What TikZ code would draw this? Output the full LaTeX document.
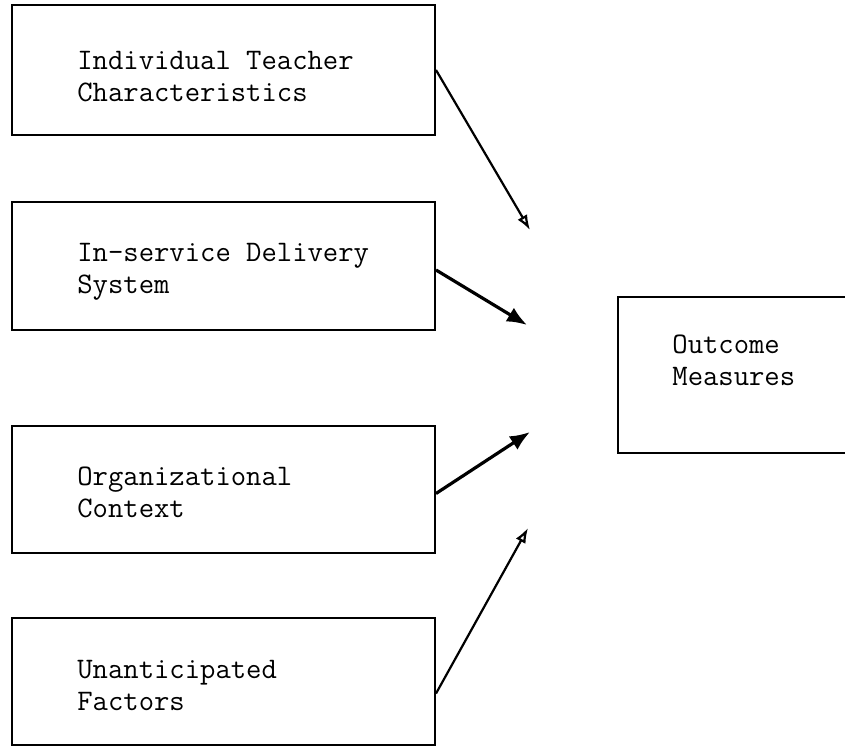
\documentclass[tikz,border=0pt]{standalone}
\usepackage{fontspec}
\usetikzlibrary{arrows.meta}
\begin{document}
\begin{tikzpicture}
[x=0.5pt, y=-0.5pt,
 boxdecorate/.style={shape=rectangle,draw,line width=1pt,minimum width=211.5pt},
 textdecorate/.style={anchor=west,align=left,inner sep=0pt,
   font=\fontsize{14.9}{16}\selectfont\ttfamily},
 thinarrow/.style={-{Latex[open,length=7.5pt,width=5.5pt]},line width=1.1pt},
 thickarrow/.style={-{Latex[length=10pt,width=8pt]},line width=1.6pt}]
%% page
\clip (0,0) rectangle (845,747);
%% boxes on the left
\foreach \nodename/\y/\h/\ty/\txt in {teacher/70/65pt/77/{Individual Teacher\\Characteristics},
  delivery/266/64pt/272/{In-service Delivery\\System},
  context/489.5/63.5pt/492/{Organizational\\Context},
  factors/681.5/63.5pt/685/{Unanticipated\\Factors}}
{
  \node (\nodename) at (223.5,\y) [boxdecorate, minimum height=\h] {};
  \node (\nodename txt) at (77,\ty) [textdecorate] {\txt};
}
%% box on the right
\node (outcome) at (734,375) [boxdecorate, minimum width=116pt, minimum height=78pt] {};
\node (outcome txt) at (672,360) [textdecorate] {Outcome\\Measures};
%% arrow tips
\foreach \tipname/\x/\y in {tip1/530/230, tip2/527/325, tip3/530/432, tip4/528/528}
{
  \coordinate (\tipname) at (\x,\y);
}
%% arrows
\draw [thinarrow] (teacher.east) -- (tip1);
\draw [thickarrow] ([yshift=-2pt]delivery.east) -- (tip2);
\draw [thickarrow] ([yshift=-2pt]context.east) -- (tip3);
\draw [thinarrow] ([yshift=-6pt]factors.east) -- (tip4);
\end{tikzpicture}
\end{document}
